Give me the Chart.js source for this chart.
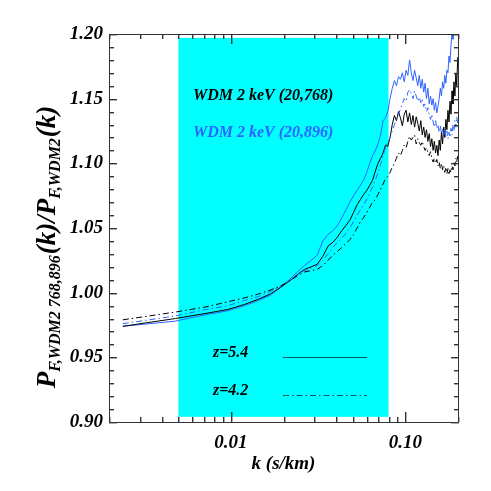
<!DOCTYPE html>
<html>
<head>
<meta charset="utf-8">
<script src="https://cdn.jsdelivr.net/npm/chart.js@4.4.0/dist/chart.umd.min.js"></script>
<style>
  html, body { margin: 0; padding: 0; background: #fff; }
  canvas { display: block; }
</style>
</head>
<body>
<canvas id="ratio" width="491" height="491"></canvas>
<script>
// k grid (s/km)
const kValues = [
  0.0024, 0.0048, 0.0072, 0.0096, 0.0120, 0.0144, 0.0168, 0.0192, 0.0216, 0.0240,
  0.0264, 0.0288, 0.0312, 0.0336, 0.0360, 0.0384, 0.0408, 0.0432, 0.0456, 0.0480,
  0.0504, 0.0528, 0.0552, 0.0576, 0.0600, 0.0624, 0.0648, 0.0672, 0.0696, 0.0720,
  0.0744, 0.0768, 0.0792, 0.0816, 0.0840, 0.0864, 0.0888, 0.0912, 0.0936, 0.0960,
  0.0984, 0.1008, 0.1032, 0.1056, 0.1080, 0.1104, 0.1128, 0.1152, 0.1176, 0.1200,
  0.1224, 0.1248, 0.1272, 0.1296, 0.1320, 0.1344, 0.1368, 0.1392, 0.1416, 0.1440,
  0.1464, 0.1488, 0.1512, 0.1536, 0.1560, 0.1584, 0.1608, 0.1632, 0.1656, 0.1680,
  0.1704, 0.1728, 0.1752, 0.1776, 0.1800, 0.1824, 0.1848, 0.1872, 0.1896, 0.1920,
  0.1944, 0.1968, 0.1992
];

// 768 run, z=5.4 (black solid)
const ratio768z54 = [
  0.974, 0.980, 0.984, 0.987, 0.991, 0.995, 0.999, 1.004, 1.009, 1.014,
  1.018, 1.020, 1.022, 1.028, 1.036, 1.039, 1.043, 1.048, 1.052, 1.056,
  1.062, 1.068, 1.072, 1.076, 1.079, 1.083, 1.087, 1.094, 1.100, 1.104,
  1.108, 1.114, 1.113, 1.120, 1.130, 1.137, 1.133, 1.140, 1.135, 1.129,
  1.138, 1.141, 1.132, 1.139, 1.130, 1.137, 1.128, 1.136, 1.131, 1.125,
  1.133, 1.122, 1.128, 1.120, 1.126, 1.117, 1.123, 1.113, 1.119, 1.110,
  1.117, 1.108, 1.114, 1.106, 1.118, 1.110, 1.124, 1.115, 1.128, 1.120,
  1.134, 1.126, 1.141, 1.132, 1.148, 1.138, 1.156, 1.146, 1.163, 1.152,
  1.170, 1.160, 1.182
];

// 896 run, z=5.4 (blue solid)
const ratio896z54 = [
  0.974, 0.978, 0.983, 0.986, 0.990, 0.994, 0.998, 1.004, 1.010, 1.016,
  1.021, 1.025, 1.029, 1.040, 1.045, 1.048, 1.052, 1.058, 1.064, 1.070,
  1.075, 1.079, 1.083, 1.087, 1.093, 1.100, 1.106, 1.110, 1.115, 1.122,
  1.133, 1.135, 1.140, 1.150, 1.158, 1.164, 1.160, 1.167, 1.165, 1.170,
  1.163, 1.172, 1.168, 1.180, 1.170, 1.164, 1.172, 1.166, 1.160, 1.168,
  1.158, 1.165, 1.155, 1.162, 1.150, 1.158, 1.146, 1.152, 1.145, 1.150,
  1.141, 1.147, 1.139, 1.144, 1.150, 1.158, 1.152, 1.163, 1.158, 1.168,
  1.162, 1.172, 1.170, 1.183, 1.178, 1.192, 1.200, 1.196, 1.206, 1.200,
  1.210, 1.205, 1.215
];

// 768 run, z=4.2 (black dash-dot)
const ratio768z42 = [
  0.979, 0.985, 0.989, 0.993, 0.996, 0.999, 1.002, 1.005, 1.009, 1.013,
  1.016, 1.017, 1.018, 1.021, 1.025, 1.029, 1.032, 1.035, 1.038, 1.041,
  1.045, 1.050, 1.055, 1.058, 1.062, 1.066, 1.070, 1.072, 1.076, 1.080,
  1.084, 1.088, 1.090, 1.093, 1.097, 1.100, 1.104, 1.108, 1.106, 1.110,
  1.114, 1.112, 1.117, 1.121, 1.118, 1.120, 1.122, 1.115, 1.119, 1.116,
  1.114, 1.117, 1.113, 1.110, 1.112, 1.108, 1.106, 1.109, 1.104, 1.101,
  1.104, 1.100, 1.103, 1.098, 1.101, 1.096, 1.100, 1.095, 1.098, 1.093,
  1.097, 1.092, 1.096, 1.091, 1.095, 1.093, 1.098, 1.095, 1.101, 1.098,
  1.104, 1.101, 1.106
];

// 896 run, z=4.2 (blue dash-dot)
const ratio896z42 = [
  0.976, 0.982, 0.987, 0.990, 0.994, 0.997, 1.001, 1.005, 1.009, 1.014,
  1.017, 1.019, 1.021, 1.025, 1.030, 1.035, 1.039, 1.042, 1.046, 1.050,
  1.055, 1.060, 1.064, 1.068, 1.072, 1.077, 1.082, 1.087, 1.093, 1.099,
  1.106, 1.112, 1.116, 1.120, 1.125, 1.130, 1.134, 1.138, 1.142, 1.146,
  1.150, 1.148, 1.155, 1.157, 1.154, 1.150, 1.156, 1.152, 1.148, 1.151,
  1.147, 1.150, 1.144, 1.146, 1.140, 1.143, 1.137, 1.134, 1.138, 1.132,
  1.128, 1.133, 1.127, 1.130, 1.124, 1.129, 1.123, 1.127, 1.121, 1.126,
  1.120, 1.125, 1.119, 1.124, 1.120, 1.127, 1.122, 1.130, 1.125, 1.133,
  1.128, 1.136, 1.131
];

// tick positions (major + minor)
const xMajorTicks = [0.01, 0.1];
const xMinorTicks = [0.002, 0.003, 0.004, 0.005, 0.006, 0.007, 0.008, 0.009,
                     0.02, 0.03, 0.04, 0.05, 0.06, 0.07, 0.08, 0.09, 0.2];
const yMajorTicks = [0.90, 0.95, 1.00, 1.05, 1.10, 1.15, 1.20];
const yMinorTicks = [0.91, 0.92, 0.93, 0.94, 0.96, 0.97, 0.98, 0.99,
                     1.01, 1.02, 1.03, 1.04, 1.06, 1.07, 1.08, 1.09,
                     1.11, 1.12, 1.13, 1.14, 1.16, 1.17, 1.18, 1.19];

// shaded k-range
const bandK = [0.005, 0.08];
const bandY = [0.904, 1.197];

const BLUE = '#2f63ff';
const DASHDOT = [6, 3, 1.5, 3];
const tickFont = { family: 'Liberation Serif', size: 19, weight: 'bold', style: 'italic' };

function points(ys) {
  return kValues.map((k, i) => ({ x: k, y: ys[i] }));
}

const decorPlugin = {
  id: 'decor',
  beforeDatasetsDraw(chart) {
    const { ctx, scales: { x, y } } = chart;
    ctx.save();
    ctx.fillStyle = '#00ffff';
    const x0 = x.getPixelForValue(bandK[0]), x1 = x.getPixelForValue(bandK[1]);
    const y0 = y.getPixelForValue(bandY[1]), y1 = y.getPixelForValue(bandY[0]);
    ctx.fillRect(x0, y0, x1 - x0, y1 - y0);
    ctx.restore();
  },
  afterDraw(chart) {
    const { ctx, chartArea: a, scales: { x, y } } = chart;
    ctx.save();
    ctx.setLineDash([]);
    const L = Math.round(a.left), R = Math.round(a.right);
    const T = Math.round(a.top), B = Math.round(a.bottom);
    // frame
    ctx.fillStyle = '#333';
    ctx.fillRect(L, T, R - L + 1, 1);
    ctx.fillRect(L, B, R - L + 1, 1);
    ctx.fillRect(L, T, 1, B - T + 1);
    ctx.fillRect(R, T, 1, B - T + 1);
    // inward ticks on all four sides
    const xTick = (v, len) => {
      const px = Math.round(x.getPixelForValue(v));
      ctx.fillRect(px, B - len, 1.4, len);
      ctx.fillRect(px, T, 1.4, len);
    };
    const yTick = (v, len) => {
      const py = Math.round(y.getPixelForValue(v));
      ctx.fillRect(L, py, len, 1.4);
      ctx.fillRect(R - len + 1, py, len, 1.4);
    };
    xMajorTicks.forEach(v => xTick(v, 10));
    xMinorTicks.forEach(v => xTick(v, 5));
    yMajorTicks.forEach(v => yTick(v, 8));
    yMinorTicks.forEach(v => yTick(v, 5));

    // legend texts
    ctx.textBaseline = 'middle';
    ctx.font = 'italic bold 16px "Liberation Serif"';
    ctx.fillStyle = '#000';
    ctx.fillText('WDM 2 keV (20,768)', 193, 96);
    ctx.fillStyle = BLUE;
    ctx.fillText('WDM 2 keV (20,896)', 193, 133);

    ctx.fillStyle = '#000';
    ctx.fillText('z=5.4', 213, 353);
    ctx.fillText('z=4.2', 213, 391);
    ctx.strokeStyle = '#0a5a5a';
    ctx.lineWidth = 1;
    ctx.beginPath();
    ctx.moveTo(283, 357.5); ctx.lineTo(367, 357.5);
    ctx.stroke();
    ctx.setLineDash(DASHDOT);
    ctx.beginPath();
    ctx.moveTo(283, 395.5); ctx.lineTo(367, 395.5);
    ctx.stroke();
    ctx.setLineDash([]);

    // y title with subscripts
    const parts = [
      ['P', false], ['F,WDM2 768,896', true], ['(k)/P', false], ['F,WDM2', true], ['(k)', false]
    ];
    const big = 'italic bold 27px "Liberation Serif"';
    const small = 'italic bold 16px "Liberation Serif"';
    let total = 0;
    parts.forEach(([s, sub]) => { ctx.font = sub ? small : big; total += ctx.measureText(s).width + (sub ? 1 : 0); });
    ctx.translate(55, 247 + total / 2);
    ctx.rotate(-Math.PI / 2);
    ctx.textBaseline = 'alphabetic';
    ctx.fillStyle = '#000';
    let pos = 0;
    parts.forEach(([s, sub]) => {
      ctx.font = sub ? small : big;
      ctx.fillText(s, pos, sub ? 5 : 0);
      pos += ctx.measureText(s).width + (sub ? 1 : 0);
    });
    ctx.restore();
  }
};

function line(ys, color, dash) {
  return {
    data: points(ys),
    borderColor: color,
    borderWidth: 1,
    borderDash: dash,
    pointRadius: 0,
    tension: 0,
    fill: false
  };
}

new Chart(document.getElementById('ratio'), {
  type: 'line',
  data: {
    datasets: [
      line(ratio768z42, '#000', DASHDOT),
      line(ratio896z42, BLUE, DASHDOT),
      line(ratio768z54, '#000', []),
      line(ratio896z54, BLUE, [])
    ]
  },
  options: {
    responsive: false,
    animation: false,
    parsing: false,
    layout: { padding: { top: 34, right: 33, left: 0, bottom: 16 } },
    plugins: { legend: { display: false }, tooltip: { enabled: false } },
    scales: {
      x: {
        type: 'logarithmic',
        min: 0.002,
        max: 0.2,
        grid: { display: false, drawTicks: false },
        border: { display: false },
        ticks: {
          autoSkip: false,
          maxRotation: 0,
          padding: 10,
          color: '#000',
          font: tickFont,
          callback: v => {
            if (Math.abs(v - xMajorTicks[0]) < 1e-9) return '0.01';
            if (Math.abs(v - xMajorTicks[1]) < 1e-9) return '0.10';
            return '';
          }
        },
        title: {
          display: true,
          text: 'k (s/km)',
          color: '#000',
          font: tickFont,
          padding: { top: 0, bottom: 0 }
        },
        afterFit: s => { s.height = 53; }
      },
      y: {
        min: 0.9,
        max: 1.2,
        grid: { display: false, drawTicks: false },
        border: { display: false },
        ticks: {
          stepSize: 0.05,
          autoSkip: false,
          padding: 6,
          color: '#000',
          font: tickFont,
          callback: v => v.toFixed(2)
        },
        afterFit: s => { s.width = 109; }
      }
    }
  },
  plugins: [decorPlugin]
});
</script>
</body>
</html>
